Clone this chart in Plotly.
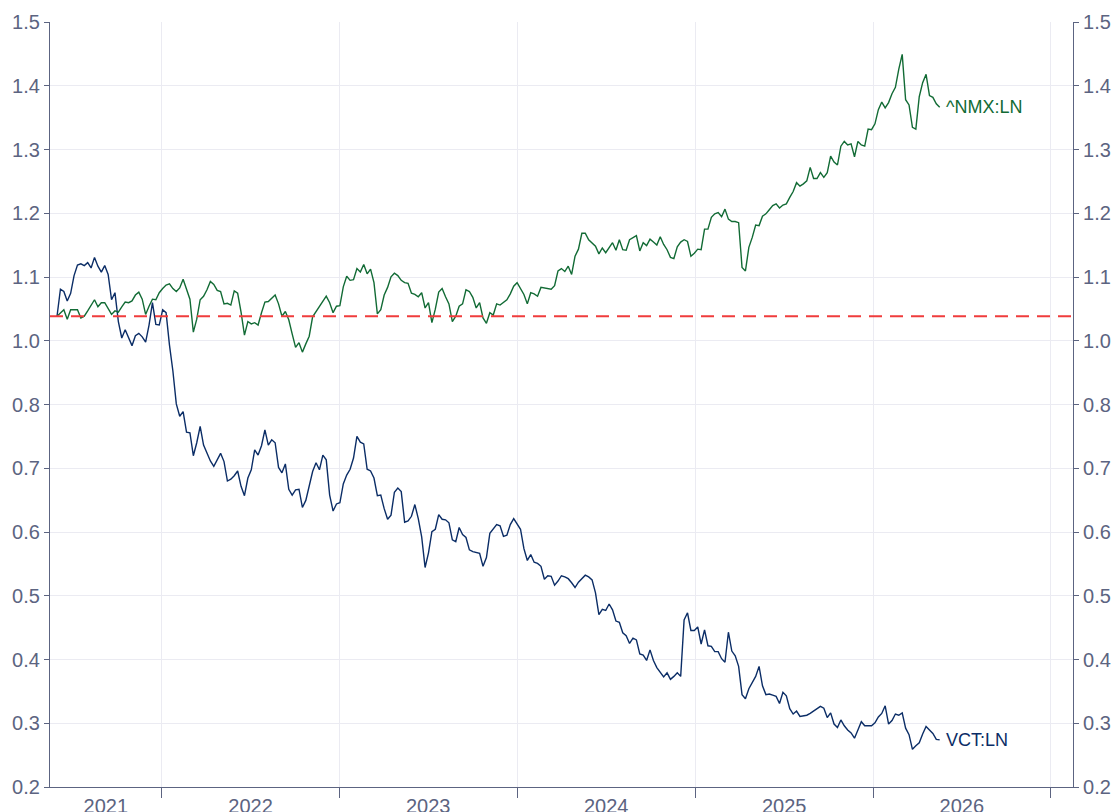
import pandas as pd
import numpy as np
import plotly.graph_objects as go

# Weekly observations, both series rebased to 1.0 at the first week
dates = pd.date_range("2021-05-31", periods=260, freq="7D")

vct_values = [
    1.000, 1.046, 1.042, 1.026, 1.039, 1.069, 1.087, 1.089, 1.086, 1.091,
    1.082, 1.100, 1.085, 1.075, 1.086, 1.071, 1.028, 1.040, 0.991, 0.963,
    0.977, 0.963, 0.950, 0.967, 0.971, 0.965, 0.956, 0.985, 1.023, 0.986,
    0.985, 1.011, 1.006, 0.951, 0.907, 0.851, 0.830, 0.838, 0.803, 0.802,
    0.763, 0.785, 0.813, 0.781, 0.766, 0.754, 0.745, 0.755, 0.767, 0.753,
    0.720, 0.723, 0.729, 0.737, 0.711, 0.695, 0.725, 0.739, 0.773, 0.764,
    0.780, 0.807, 0.781, 0.790, 0.785, 0.743, 0.734, 0.749, 0.706, 0.696,
    0.705, 0.706, 0.675, 0.687, 0.711, 0.736, 0.751, 0.739, 0.764, 0.756,
    0.696, 0.669, 0.681, 0.683, 0.715, 0.730, 0.740, 0.759, 0.796, 0.786,
    0.783, 0.740, 0.737, 0.725, 0.695, 0.696, 0.673, 0.655, 0.662, 0.701,
    0.708, 0.702, 0.650, 0.652, 0.660, 0.680, 0.656, 0.625, 0.573, 0.598,
    0.634, 0.638, 0.663, 0.655, 0.654, 0.649, 0.620, 0.617, 0.641, 0.629,
    0.624, 0.603, 0.600, 0.599, 0.597, 0.575, 0.590, 0.631, 0.639, 0.646,
    0.644, 0.626, 0.628, 0.646, 0.656, 0.647, 0.638, 0.605, 0.585, 0.595,
    0.582, 0.580, 0.575, 0.553, 0.559, 0.558, 0.543, 0.550, 0.559, 0.557,
    0.554, 0.547, 0.539, 0.548, 0.555, 0.560, 0.557, 0.552, 0.530, 0.493,
    0.502, 0.500, 0.511, 0.501, 0.482, 0.480, 0.462, 0.457, 0.444, 0.453,
    0.450, 0.426, 0.424, 0.415, 0.433, 0.415, 0.403, 0.394, 0.387, 0.394,
    0.383, 0.388, 0.394, 0.388, 0.484, 0.496, 0.466, 0.466, 0.472, 0.443,
    0.467, 0.440, 0.439, 0.430, 0.430, 0.418, 0.412, 0.463, 0.431, 0.423,
    0.405, 0.357, 0.350, 0.367, 0.378, 0.388, 0.405, 0.372, 0.357, 0.358,
    0.356, 0.354, 0.342, 0.361, 0.355, 0.333, 0.324, 0.329, 0.320, 0.321,
    0.322, 0.325, 0.329, 0.332, 0.337, 0.334, 0.318, 0.326, 0.307, 0.301,
    0.314, 0.304, 0.297, 0.292, 0.283, 0.297, 0.311, 0.304, 0.304, 0.304,
    0.309, 0.319, 0.325, 0.338, 0.307, 0.313, 0.324, 0.322, 0.326, 0.300,
    0.289, 0.264, 0.270, 0.275, 0.290, 0.303, 0.297, 0.291, 0.281, 0.280,
]

nmx_values = [
    1.000, 1.006, 1.011, 0.995, 1.011, 1.011, 1.011, 0.997, 1.000, 1.009,
    1.019, 1.028, 1.016, 1.023, 1.023, 1.012, 1.003, 1.009, 1.007, 1.016,
    1.024, 1.023, 1.026, 1.036, 1.041, 1.029, 1.003, 1.017, 1.029, 1.028,
    1.040, 1.047, 1.053, 1.055, 1.047, 1.042, 1.048, 1.063, 1.045, 1.029,
    0.973, 0.995, 1.028, 1.034, 1.045, 1.059, 1.054, 1.044, 1.042, 1.021,
    1.022, 1.019, 1.043, 1.039, 1.007, 0.968, 0.991, 0.987, 0.989, 0.985,
    1.006, 1.024, 1.025, 1.031, 1.036, 1.021, 1.000, 1.008, 0.994, 0.970,
    0.947, 0.955, 0.939, 0.953, 0.966, 0.999, 1.008, 1.015, 1.025, 1.034,
    1.023, 1.006, 1.017, 1.018, 1.050, 1.068, 1.061, 1.062, 1.081, 1.075,
    1.088, 1.072, 1.080, 1.057, 1.004, 1.011, 1.036, 1.049, 1.067, 1.073,
    1.069, 1.061, 1.057, 1.056, 1.039, 1.037, 1.033, 1.040, 1.014, 1.023,
    0.989, 1.012, 1.041, 1.047, 1.033, 1.021, 0.991, 1.000, 1.017, 1.021,
    1.045, 1.042, 1.032, 1.014, 1.023, 0.997, 0.988, 1.006, 1.002, 1.021,
    1.019, 1.023, 1.028, 1.038, 1.051, 1.057, 1.048, 1.037, 1.021, 1.040,
    1.038, 1.034, 1.049, 1.048, 1.047, 1.046, 1.052, 1.077, 1.081, 1.076,
    1.085, 1.071, 1.102, 1.114, 1.141, 1.141, 1.130, 1.124, 1.119, 1.106,
    1.116, 1.108, 1.116, 1.125, 1.112, 1.130, 1.113, 1.112, 1.130, 1.134,
    1.137, 1.111, 1.125, 1.120, 1.131, 1.126, 1.121, 1.135, 1.122, 1.113,
    1.100, 1.098, 1.118, 1.126, 1.130, 1.127, 1.102, 1.107, 1.114, 1.113,
    1.148, 1.148, 1.168, 1.174, 1.176, 1.169, 1.182, 1.165, 1.161, 1.161,
    1.159, 1.083, 1.077, 1.117, 1.134, 1.155, 1.154, 1.170, 1.174, 1.181,
    1.188, 1.191, 1.184, 1.189, 1.191, 1.202, 1.212, 1.227, 1.221, 1.225,
    1.230, 1.253, 1.234, 1.234, 1.244, 1.236, 1.244, 1.272, 1.262, 1.257,
    1.289, 1.297, 1.291, 1.293, 1.271, 1.297, 1.291, 1.289, 1.318, 1.317,
    1.327, 1.351, 1.364, 1.354, 1.363, 1.378, 1.389, 1.420, 1.445, 1.368,
    1.359, 1.321, 1.318, 1.373, 1.397, 1.411, 1.375, 1.372, 1.361, 1.355,
]

series_names = ["VCT:LN", "^NMX:LN"]
baseline = 1.0

# y axis: 12 equal steps between 0.2 and 1.5, labelled to one decimal
y_min, y_max = 0.2, 1.5
y_tick_text = ["0.2", "0.3", "0.4", "0.5", "0.6", "0.7", "0.8",
               "1.0", "1.1", "1.2", "1.3", "1.4", "1.5"]
y_tick_vals = list(np.linspace(y_min, y_max, len(y_tick_text)))

x_range = ["2021-05-16 14:00", "2027-02-15 19:00"]
year_labels = ["2021", "2022", "2023", "2024", "2025", "2026"]

# each year label sits in the middle of the visible part of that year
lo, hi = pd.Timestamp(x_range[0]), pd.Timestamp(x_range[1])
year_mid = []
for y in year_labels:
    a = max(pd.Timestamp(f"{y}-01-01"), lo)
    b = min(pd.Timestamp(f"{int(y) + 1}-01-01"), hi)
    year_mid.append(a + (b - a) / 2)

NAVY = "#0b2d66"
GREEN = "#126b35"
AXIS = "#5c6481"
GRID = "#ebebf2"
FONT = "Arial, Liberation Sans, sans-serif"

fig = go.Figure()
fig.add_trace(go.Scatter(
    x=dates, y=vct_values, name=series_names[0], mode="lines",
    line=dict(color=NAVY, width=1.4), yaxis="y",
))
fig.add_trace(go.Scatter(
    x=dates, y=nmx_values, name=series_names[1], mode="lines",
    line=dict(color=GREEN, width=1.4), yaxis="y2",
))

# series names at the right end of each line
for name, vals, color, yref in [(series_names[0], vct_values, NAVY, "y"),
                                (series_names[1], nmx_values, GREEN, "y2")]:
    fig.add_annotation(x=dates[-1], y=vals[-1], xref="x", yref=yref, text=name,
                       showarrow=False, xanchor="left", yanchor="middle", xshift=4,
                       font=dict(color=color, size=18, family=FONT))

fig.add_shape(type="line", xref="paper", x0=0, x1=1, yref="y", y0=baseline, y1=baseline,
              line=dict(color="#f03c3c", width=2, dash="13px,8px"), layer="above")

yaxis_common = dict(
    range=[y_min, y_max], tickmode="array", tickvals=y_tick_vals, ticktext=y_tick_text,
    showline=True, linecolor=AXIS, linewidth=1.2, ticks="outside", ticklen=5,
    tickcolor=AXIS, tickfont=dict(size=20, color=AXIS, family=FONT),
    showgrid=True, gridcolor=GRID, gridwidth=1, zeroline=False, automargin=False,
)

fig.update_layout(
    width=1118, height=812,
    margin=dict(l=50, r=45, t=22, b=25),
    paper_bgcolor="white", plot_bgcolor="white",
    showlegend=False,
    font=dict(family=FONT, color=AXIS),
    xaxis=dict(
        type="date", range=x_range,
        tickmode="array", tickvals=year_mid, ticktext=year_labels, ticks="",
        ticklabelstandoff=1,
        tickfont=dict(size=20, color=AXIS, family=FONT),
        showline=True, linecolor=AXIS, linewidth=1.2,
        showgrid=False, zeroline=False, automargin=False,
        minor=dict(dtick="M12", tick0="2021-01-01", ticks="outside", ticklen=10,
                   tickcolor=AXIS, showgrid=True, gridcolor=GRID, gridwidth=1),
    ),
    yaxis=dict(side="left", **yaxis_common),
    yaxis2=dict(side="right", overlaying="y", **yaxis_common),
)

fig.write_html("out.html")
